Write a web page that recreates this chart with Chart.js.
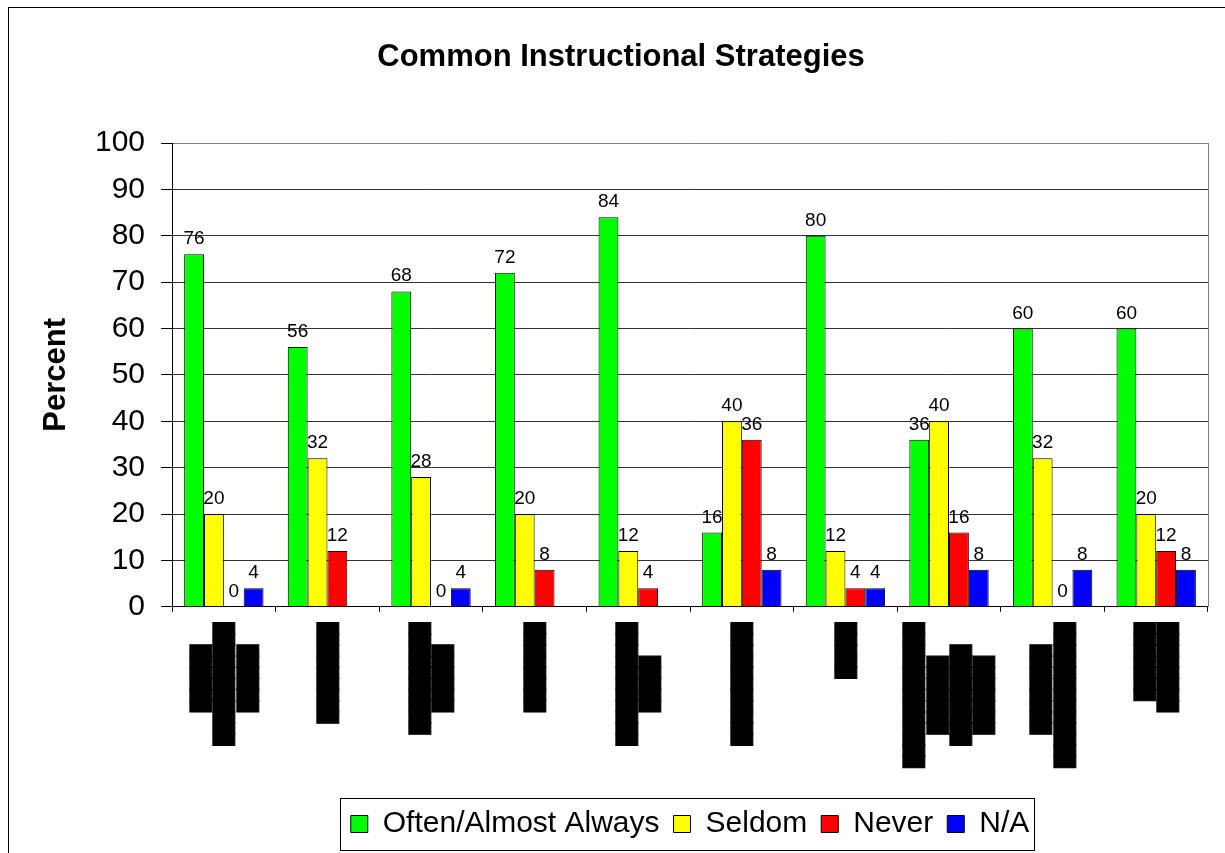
<!DOCTYPE html>
<html>
<head>
<meta charset="utf-8">
<style>
html, body { margin: 0; padding: 0; background: #ffffff; overflow: hidden; }
#wrap { position: relative; width: 1225px; height: 853px; overflow: hidden; }
#frame { position: absolute; left: 8px; top: 7px; width: 1240px; height: 870px; border: 1px solid #000; pointer-events: none; }
canvas { position: absolute; left: 0; top: 0; }
</style>
<script src="https://cdn.jsdelivr.net/npm/chart.js@4.4.0/dist/chart.umd.min.js"></script>
</head>
<body>
<div id="wrap"><canvas id="c" width="1225" height="853"></canvas><div id="frame"></div></div>
<script>
// ---- chart text ----
const chartTitle = 'Common Instructional Strategies';
const yAxisTitle = 'Percent';
const seriesNames = ['Often/Almost Always', 'Seldom', 'Never', 'N/A'];

// ---- category tick labels (redacted in the source, shown as solid blocks) ----
const categoryLabels = [
  ['██████', '███████████', '██████'],
  ['█████████'],
  ['██████████', '██████'],
  ['████████'],
  ['███████████', '█████'],
  ['███████████'],
  ['█████'],
  ['█████████████', '███████', '█████████', '███████'],
  ['████████', '█████████████'],
  ['███████', '████████']
];

// ---- series values (percent) ----
const oftenValues  = [76, 56, 68, 72, 84, 16, 80, 36, 60, 60];
const seldomValues = [20, 32, 28, 20, 12, 40, 12, 40, 32, 20];
const neverValues  = [0, 12, 0, 8, 4, 36, 4, 16, 0, 12];
const naValues     = [4, null, 4, null, null, 8, 4, 8, 8, 8];

// ---- y axis ----
const yMin = 0, yMax = 100, yStep = 10;

const FONT = '"Liberation Sans", Arial, sans-serif';
const SLOT = 11.7; // half of the column pitch of a rotated multi-line label

// centre the rotated label lines around the tick (slot layout)
function buildTickLabel(lines) {
  const n = lines.length;
  const maxLen = Math.max(...lines.map(s => s.length));
  const out = [];
  lines.forEach((s, j) => {
    const slot = 4 - n + 2 * j;
    while (out.length < slot) out.push('');
    out.push(s + ' '.repeat(1 + Math.floor((maxLen - s.length) / 2)));
  });
  return out;
}
const tickLabels = categoryLabels.map(buildTickLabel);

const barValueLabels = {
  id: 'barValueLabels',
  afterDatasetsDraw(chart) {
    const ctx = chart.ctx;
    ctx.save();
    ctx.font = '19px ' + FONT;
    ctx.fillStyle = '#000';
    ctx.textAlign = 'center';
    ctx.textBaseline = 'alphabetic';
    chart.data.datasets.forEach((ds, i) => {
      const meta = chart.getDatasetMeta(i);
      meta.data.forEach((bar, j) => {
        const v = ds.data[j];
        if (v === null || v === undefined) return;
        ctx.fillText(String(v), bar.x, bar.y - 10);
      });
    });
    ctx.restore();
  }
};

const legendFrame = {
  id: 'legendFrame',
  afterDraw(chart) {
    const hb = chart.legend && chart.legend.legendHitBoxes;
    if (!hb || !hb.length) return;
    const first = hb[0], last = hb[hb.length - 1];
    const x0 = Math.round(first.left - 11) + 0.5;
    const x1 = Math.round(last.left + last.width + 5) + 0.5;
    const y0 = Math.round(first.top - 11) + 0.5;
    const y1 = Math.round(first.top + first.height + 11) + 0.5;
    const ctx = chart.ctx;
    ctx.save();
    ctx.strokeStyle = '#000';
    ctx.lineWidth = 1;
    ctx.strokeRect(x0, y0, x1 - x0, y1 - y0);
    ctx.restore();
  }
};

new Chart(document.getElementById('c'), {
  type: 'bar',
  data: {
    labels: tickLabels,
    datasets: [
      { label: seriesNames[0], data: oftenValues,  backgroundColor: '#00FF00', borderColor: '#000', borderWidth: 1 },
      { label: seriesNames[1], data: seldomValues, backgroundColor: '#FFFF00', borderColor: '#000', borderWidth: 1 },
      { label: seriesNames[2], data: neverValues,  backgroundColor: '#FF0000', borderColor: '#000', borderWidth: 1 },
      { label: seriesNames[3], data: naValues,     backgroundColor: '#0000FF', borderColor: '#000', borderWidth: 1 }
    ]
  },
  options: {
    responsive: false,
    animation: false,
    devicePixelRatio: 1,
    layout: { padding: { left: 26, right: 9, top: 0, bottom: 4 } },
    datasets: { bar: { categoryPercentage: 0.766, barPercentage: 1 } },
    plugins: {
      title: {
        display: true, text: chartTitle, color: '#000',
        font: { family: FONT, size: 31, weight: 'bold', lineHeight: 1.2 },
        padding: { top: 38.4, bottom: 67.4 }
      },
      legend: {
        position: 'bottom', fullSize: false,
        labels: { color: '#000', font: { family: FONT, size: 30 }, boxWidth: 17, boxHeight: 17, padding: 14 }
      },
      tooltip: { enabled: false }
    },
    scales: {
      x: {
        grid: { display: true, drawOnChartArea: false, drawTicks: true, tickLength: 5, color: '#000', offset: true },
        border: { display: true, color: '#000', width: 1 },
        ticks: {
          autoSkip: false, minRotation: 90, maxRotation: 90, padding: 0,
          labelOffset: -3 * SLOT + 1.5, color: '#000',
          textStrokeColor: '#000', textStrokeWidth: 1,
          font: { family: '"DejaVu Sans Mono", monospace', size: 18.5, lineHeight: SLOT + 'px' }
        },
        title: { display: true, text: '', font: { size: 10, lineHeight: 1 }, padding: { top: 0, bottom: 17.3 } }
      },
      y: {
        min: yMin, max: yMax,
        ticks: { stepSize: yStep, padding: 16, color: '#000', font: { family: FONT, size: 30 } },
        grid: {
          color: (c) => (c.tick && c.tick.value === yMax) ? '#808080' : '#333',
          tickColor: '#000', tickLength: 11, drawTicks: true
        },
        border: { display: true, color: '#000', width: 1 },
        title: {
          display: true, text: yAxisTitle, color: '#000',
          font: { family: FONT, size: 31, weight: 'bold', lineHeight: 1.2 },
          padding: { top: 11.9, bottom: 3.9 }
        }
      },
      y2: {
        type: 'linear', position: 'right',
        grid: { display: false }, ticks: { display: false },
        border: { display: true, color: '#808080', width: 1 }
      }
    }
  },
  plugins: [barValueLabels, legendFrame]
});
</script>
</body>
</html>
